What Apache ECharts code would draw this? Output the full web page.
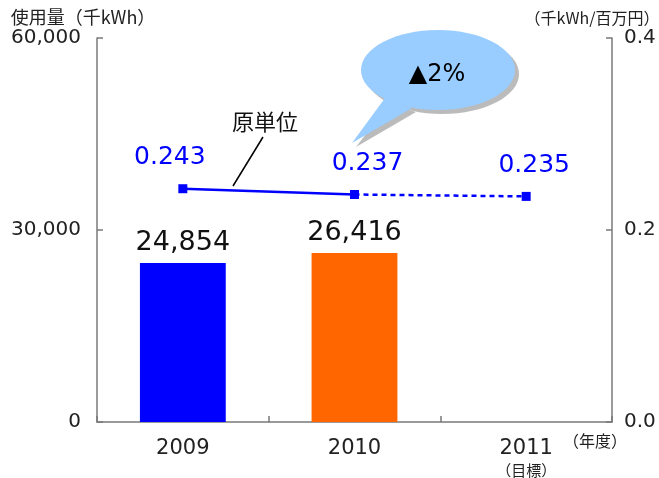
<!DOCTYPE html>
<html><head><meta charset="utf-8">
<script src="https://cdn.jsdelivr.net/npm/echarts@6/dist/echarts.min.js"></script>
<style>html,body{margin:0;padding:0;background:#fff}#c{width:659px;height:478px}</style>
</head><body><div id="c"></div>
<script>
const categories = ['2009', '2010', '2011'];
const usage = [24854, 26416, null];
const intensityActual = [0.243, 0.237, null];
const intensityTarget = [null, 0.237, 0.235];
const leftTicks = [0, 30000, 60000];
const rightTicks = [0, 0.2, 0.4];

const NUM = 'DejaVu Sans, sans-serif';
const JP = '"Noto Sans CJK JP", sans-serif';
const barColors = ['#0000FF', '#FF6600', '#FF6600'];
const lineLabelOffsets = [[-13, 0], [13, 0], [8, 0]];

const chart = echarts.init(document.getElementById('c'));
const axisLine = {show: true, lineStyle: {color: '#7a7a7a', width: 1.5}};
chart.setOption({
  animation: false,
  grid: {left: 97, right: 47, top: 38, bottom: 56, containLabel: false, outerBoundsMode: 'none'},
  xAxis: {
    type: 'category', data: categories,
    axisLine: axisLine,
    axisTick: {show: true, inside: true, length: 6, lineStyle: {color: '#7a7a7a', width: 1.5}},
    axisLabel: {
      margin: 16, color: '#222', fontFamily: NUM, fontSize: 21,
      formatter: (v, i) => i === 2 ? v + '\n{s|（目標）}' : v,
      rich: {s: {fontFamily: JP, fontSize: 15, color: '#222', lineHeight: 22}}
    }
  },
  yAxis: [{
    type: 'value', min: 0, max: 60000, interval: 30000,
    name: '使用量（千kWh）', nameLocation: 'end', nameGap: 12,
    nameTextStyle: {fontFamily: JP, fontSize: 18, color: '#222', padding: [0, 28, 0, 0]},
    axisLine: axisLine,
    axisTick: {show: true, inside: true, length: 6, lineStyle: {color: '#7a7a7a', width: 1.5}},
    splitLine: {show: false},
    axisLabel: {margin: 16, color: '#222', fontFamily: NUM, fontSize: 20,
      formatter: v => v.toLocaleString('en-US')}
  }, {
    type: 'value', min: 0, max: 0.4, interval: 0.2,
    name: '（千kWh/百万円）', nameLocation: 'end', nameGap: 12,
    nameTextStyle: {fontFamily: JP, fontSize: 16, color: '#222', padding: [0, 40, 0, 0]},
    axisLine: axisLine,
    axisTick: {show: true, inside: true, length: 6, lineStyle: {color: '#7a7a7a', width: 1.5}},
    splitLine: {show: false},
    axisLabel: {margin: 12, color: '#222', fontFamily: NUM, fontSize: 20,
      formatter: v => v.toFixed(1)}
  }],
  series: [{
    type: 'bar', yAxisIndex: 0, barWidth: '50%',
    data: usage.map((v, i) => ({value: v, itemStyle: {color: barColors[i]}})),
    label: {show: true, position: 'top', distance: 6, color: '#111', fontFamily: NUM, fontSize: 27,
      formatter: p => p.value == null ? '' : p.value.toLocaleString('en-US')}
  }, {
    type: 'line', yAxisIndex: 1, symbol: 'rect', symbolSize: 9,
    lineStyle: {color: '#0000FF', width: 2.5}, itemStyle: {color: '#0000FF'},
    data: intensityActual.map((v, i) => ({value: v, label: {offset: lineLabelOffsets[i]}})),
    label: {show: true, position: 'top', distance: 14, color: '#0000FF', fontFamily: NUM, fontSize: 25,
      formatter: p => p.value.toFixed(3)},
    z: 5
  }, {
    type: 'line', yAxisIndex: 1, symbol: 'rect', symbolSize: 9,
    lineStyle: {color: '#0000FF', width: 2.5, type: [5, 4]}, itemStyle: {color: '#0000FF'},
    data: intensityTarget.map((v, i) => ({value: v, label: {show: i === 2, offset: lineLabelOffsets[i]}})),
    label: {position: 'top', distance: 14, color: '#0000FF', fontFamily: NUM, fontSize: 25,
      formatter: p => p.value.toFixed(3)},
    z: 4
  }],
  graphic: [
    {type: 'text', x: 563, y: 441, style: {text: '（年度）', font: '16px "Noto Sans CJK JP"', fill: '#222', verticalAlign: 'middle'}},
    // callout shadow
    {type: 'ellipse', shape: {cx: 442, cy: 74, rx: 77, ry: 40}, style: {fill: '#BBBBBB'}, z: 10},
    {type: 'polygon', shape: {points: [[389, 104], [416, 112], [356, 147]]}, style: {fill: '#BBBBBB'}, z: 10},
    // callout
    {type: 'ellipse', shape: {cx: 438, cy: 70, rx: 77, ry: 40}, style: {fill: '#99CCFF'}, z: 11},
    {type: 'polygon', shape: {points: [[385, 98], [412, 108], [352, 143]]}, style: {fill: '#99CCFF'}, z: 11},
    {type: 'text', x: 437, y: 75, style: {text: '▲2%', font: '24px "DejaVu Sans"', fill: '#000', align: 'center', verticalAlign: 'middle'}, z: 12},
    // series annotation
    {type: 'text', x: 265, y: 122, style: {text: '原単位', font: '22px "Noto Sans CJK JP"', fill: '#111', align: 'center', verticalAlign: 'middle'}, z: 12},
    {type: 'line', shape: {x1: 263, y1: 137, x2: 233, y2: 186}, style: {stroke: '#000', lineWidth: 1.5}, z: 12}
  ]
});
</script></body></html>
